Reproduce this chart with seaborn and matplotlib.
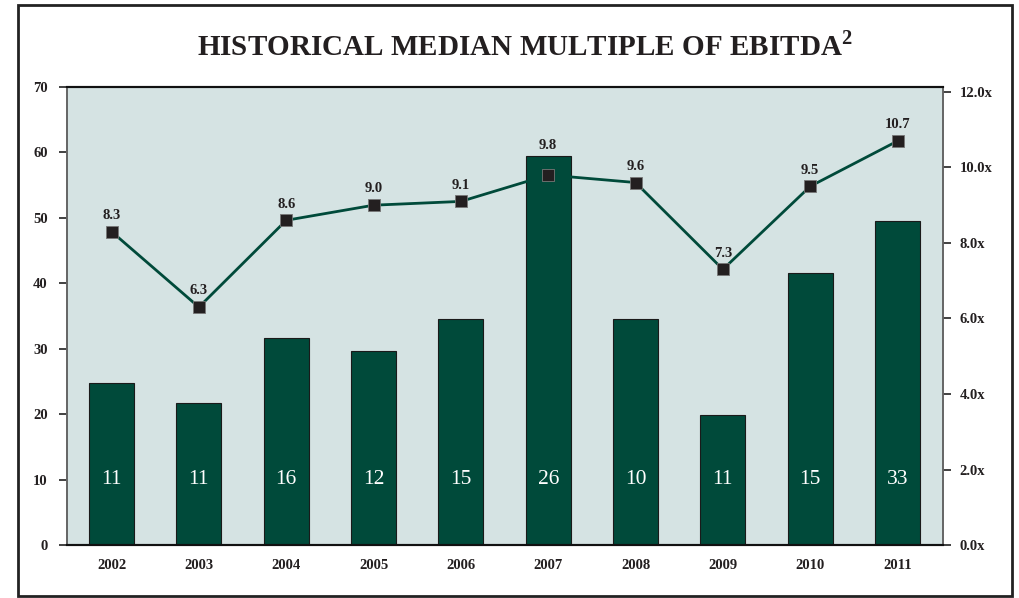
import matplotlib
matplotlib.use("Agg")
import matplotlib.pyplot as plt
import seaborn as sns
import numpy as np
import pandas as pd
from matplotlib.patches import Rectangle

years = ["2002", "2003", "2004", "2005", "2006", "2007", "2008", "2009", "2010", "2011"]
bar_values = [24.7, 21.7, 31.7, 29.7, 34.6, 59.4, 34.6, 19.8, 41.6, 49.5]
bar_labels = ["11", "11", "16", "12", "15", "26", "10", "11", "15", "33"]
multiples = [8.3, 6.3, 8.6, 9.0, 9.1, 9.8, 9.6, 7.3, 9.5, 10.7]
left_ticks = [0, 10, 20, 30, 40, 50, 60, 70]
right_ticks = [0, 2, 4, 6, 8, 10, 12]
right_tick_labels = ["0.0x", "2.0x", "4.0x", "6.0x", "8.0x", "10.0x", "12.0x"]
title = "HISTORICAL MEDIAN MULTIPLE OF EBITDA$^{\\mathbf{2}}$"

sns.set_theme(style="white")
plt.rcParams["font.family"] = ["Liberation Serif", "DejaVu Serif"]
plt.rcParams["mathtext.fontset"] = "custom"
plt.rcParams["mathtext.bf"] = "Liberation Serif:bold"
plt.rcParams["mathtext.rm"] = "Liberation Serif"

GREEN = "#004a3a"
BG = "#d5e3e3"
DARK = "#231f20"

LEFT_MAX = 70
RIGHT_MAX = 12.13

df = pd.DataFrame({"year": years, "value": bar_values, "label": bar_labels, "mult": multiples})
df["pos"] = np.arange(len(df))

fig = plt.figure(figsize=(10.2, 5.98), dpi=100)
ax = fig.add_axes([0.0657, 0.0886, 0.8588, 0.7659])
ax.set_facecolor(BG)

sns.barplot(data=df, x="year", y="value", color=GREEN, saturation=1, width=0.515,
            edgecolor="#1a1a1a", linewidth=0.8, ax=ax, zorder=2)
ax.set_ylim(0, LEFT_MAX)
ax.set_xlim(-0.51, 9.52)
ax.set_yticks(left_ticks)
ax.set_xlabel("")
ax.set_ylabel("")
for i, lab in enumerate(df["label"]):
    ax.text(i, 10, lab, color="white", ha="center", va="center", fontsize=15.5, zorder=5)

ax2 = ax.twinx()
sns.lineplot(data=df, x="pos", y="mult", color=GREEN, linewidth=2, ax=ax2, zorder=3)
ax2.scatter(df["pos"], df["mult"], marker="s", s=78, color=DARK, edgecolor="#777777",
            linewidth=0.6, zorder=4)
ax2.set_ylim(0, RIGHT_MAX)
ax2.set_yticks(right_ticks)
ax2.set_yticklabels(right_tick_labels)
ax2.set_xlabel("")
ax2.set_ylabel("")
for i, (v, b) in enumerate(zip(df["mult"], df["value"])):
    bar_top = b / LEFT_MAX * RIGHT_MAX
    if bar_top > v:
        xy, off = (i, bar_top), 3.5
    else:
        xy, off = (i, v), 7
    ax2.annotate(f"{v:.1f}", xy, xytext=(0, off), textcoords="offset points",
                 ha="center", va="bottom", fontsize=10.5, fontweight="bold", color=DARK)

for a in (ax, ax2):
    for s in a.spines.values():
        s.set_visible(True)
    a.spines["left"].set_color("#666666")
    a.spines["right"].set_color("#666666")
    a.spines["top"].set_color("#111111")
    a.spines["bottom"].set_color("#111111")
    a.spines["top"].set_linewidth(1.5)
    a.spines["bottom"].set_linewidth(1.5)
    a.grid(False)

ax.tick_params(axis="y", which="major", direction="out", length=6, width=1.3, color="#333333",
               left=True, labelsize=10.5, pad=8)
ax.tick_params(axis="x", length=0, labelsize=10.5, pad=10)
ax2.tick_params(axis="y", direction="out", length=6, width=1.3, color="#333333",
                right=True, labelsize=10.5, pad=6)
for lab in ax.get_yticklabels() + ax.get_xticklabels() + ax2.get_yticklabels():
    lab.set_fontweight("bold")
    lab.set_color(DARK)

fig.text(0.515, 0.923, title, ha="center", va="center", fontsize=21, fontweight="bold", color=DARK)
fig.patches.append(Rectangle((0.0176, 0.003), 0.975, 0.989, transform=fig.transFigure,
                             fill=False, edgecolor="#222222", linewidth=2))

fig.savefig("out.png", dpi=100)
